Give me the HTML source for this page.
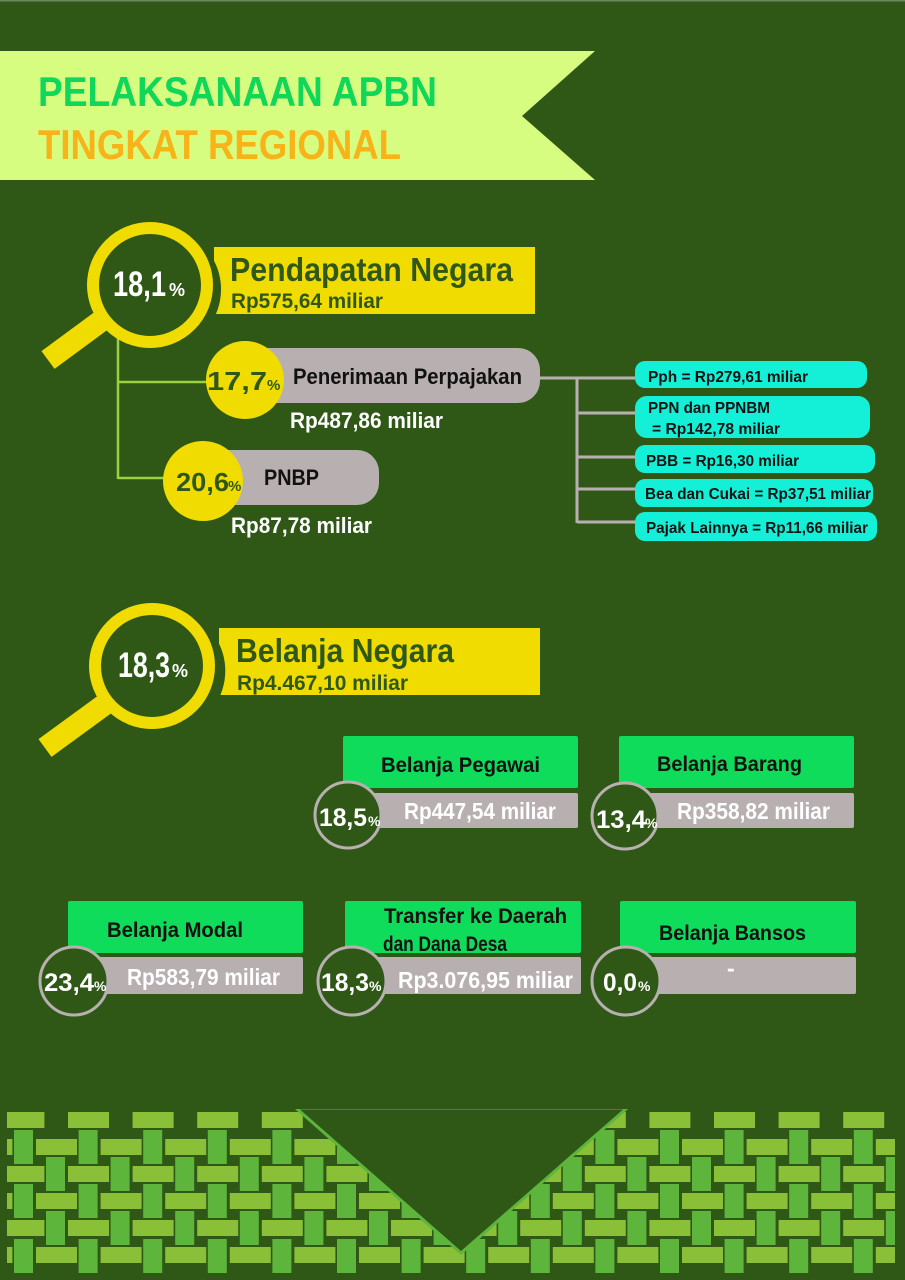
<!DOCTYPE html>
<html><head><meta charset="utf-8"><style>
html,body{margin:0;padding:0;background:#2f5817;}
svg{display:block;}
text{font-family:"Liberation Sans Narrow","Liberation Sans",sans-serif;font-weight:bold;}
</style></head><body>
<svg width="905" height="1280" viewBox="0 0 905 1280" xmlns="http://www.w3.org/2000/svg">
<defs>
<clipPath id="pc"><rect x="7" y="1100" width="888" height="175"/></clipPath>
</defs>
<rect width="905" height="1280" fill="#2f5817"/>
<rect x="0" y="0" width="905" height="1.5" fill="#6e8a5c"/>

<polygon points="0,51 595,51 522,116 595,180 0,180" fill="#d6fd7f"/>
<text x="38" y="106" font-size="42" fill="#10d65a" textLength="399" lengthAdjust="spacingAndGlyphs">PELAKSANAAN APBN</text>
<text x="38" y="159" font-size="42" fill="#f7b318" textLength="363" lengthAdjust="spacingAndGlyphs">TINGKAT REGIONAL</text>

<line x1="118" y1="330" x2="118" y2="479" stroke="#9bd040" stroke-width="2.5"/>
<line x1="118" y1="382" x2="215" y2="382" stroke="#9bd040" stroke-width="2.5"/>
<line x1="118" y1="478" x2="170" y2="478" stroke="#9bd040" stroke-width="2.5"/>
<line x1="48" y1="360" x2="105" y2="318" stroke="#f0dc00" stroke-width="22"/>
<circle cx="150" cy="285" r="57" fill="#2f5817" stroke="#f0dc00" stroke-width="12"/>
<rect x="214" y="247" width="321" height="67" fill="#f0dc00"/>
<path d="M207,250 A62,62 0 0 1 214,318 L214,247 Z" fill="#2f5817"/>
<text x="113" y="296" font-size="35" fill="#fff" textLength="53" lengthAdjust="spacingAndGlyphs">18,1</text>
<text x="169" y="296" font-size="18" fill="#fff">%</text>
<text x="230" y="281" font-size="33" fill="#2f5817" textLength="283" lengthAdjust="spacingAndGlyphs">Pendapatan Negara</text>
<text x="231" y="308" font-size="21" fill="#2f5817" textLength="152" lengthAdjust="spacingAndGlyphs">Rp575,64 miliar</text>

<g stroke="#b8b0b0" stroke-width="3" fill="none">
<line x1="535" y1="378" x2="637" y2="378"/>
<line x1="577" y1="378" x2="577" y2="523"/>
<line x1="577" y1="413" x2="637" y2="413"/>
<line x1="577" y1="457" x2="637" y2="457"/>
<line x1="577" y1="489" x2="637" y2="489"/>
<line x1="577" y1="522" x2="637" y2="522"/>
</g>

<rect x="230" y="348" width="310" height="55" rx="22" fill="#b8b0b0"/>
<circle cx="245" cy="380" r="39" fill="#f0dc00"/>
<text x="207" y="390" font-size="26" fill="#2f5817" textLength="60" lengthAdjust="spacingAndGlyphs">17,7</text>
<text x="267" y="390" font-size="15" fill="#2f5817">%</text>
<text x="293" y="384" font-size="22" fill="#111" textLength="229" lengthAdjust="spacingAndGlyphs">Penerimaan Perpajakan</text>
<text x="290" y="428" font-size="22" fill="#fff" textLength="153" lengthAdjust="spacingAndGlyphs">Rp487,86 miliar</text>

<rect x="190" y="450" width="189" height="55" rx="22" fill="#b8b0b0"/>
<circle cx="203" cy="481" r="40" fill="#f0dc00"/>
<text x="176" y="491" font-size="26" fill="#2f5817" textLength="53" lengthAdjust="spacingAndGlyphs">20,6</text>
<text x="228" y="491" font-size="15" fill="#2f5817">%</text>
<text x="264" y="485" font-size="22" fill="#111" textLength="55" lengthAdjust="spacingAndGlyphs">PNBP</text>
<text x="231" y="533" font-size="22" fill="#fff" textLength="141" lengthAdjust="spacingAndGlyphs">Rp87,78 miliar</text>

<g fill="#14f0d8">
<rect x="635" y="361" width="232" height="27" rx="10"/>
<rect x="635" y="396" width="235" height="42" rx="12"/>
<rect x="635" y="445" width="240" height="28" rx="10"/>
<rect x="635" y="479" width="238" height="28" rx="10"/>
<rect x="635" y="512" width="242" height="29" rx="10"/>
</g>
<g font-size="16" fill="#111">
<text x="648" y="382" textLength="160" lengthAdjust="spacingAndGlyphs">Pph = Rp279,61 miliar</text>
<text x="648" y="413" textLength="122" lengthAdjust="spacingAndGlyphs">PPN dan PPNBM</text>
<text x="652" y="434" textLength="128" lengthAdjust="spacingAndGlyphs">= Rp142,78 miliar</text>
<text x="646" y="466" textLength="153" lengthAdjust="spacingAndGlyphs">PBB = Rp16,30 miliar</text>
<text x="645" y="499" textLength="226" lengthAdjust="spacingAndGlyphs">Bea dan Cukai = Rp37,51 miliar</text>
<text x="646" y="533" textLength="222" lengthAdjust="spacingAndGlyphs">Pajak Lainnya = Rp11,66 miliar</text>
</g>

<line x1="45" y1="748" x2="108" y2="702" stroke="#f0dc00" stroke-width="22"/>
<circle cx="152" cy="666" r="57" fill="#2f5817" stroke="#f0dc00" stroke-width="12"/>
<rect x="219" y="628" width="321" height="67" fill="#f0dc00"/>
<path d="M210,630 A62,62 0 0 1 219,698 L219,628 Z" fill="#2f5817"/>
<text x="118" y="677" font-size="35" fill="#fff" textLength="52" lengthAdjust="spacingAndGlyphs">18,3</text>
<text x="172" y="677" font-size="18" fill="#fff">%</text>
<text x="236" y="662" font-size="33" fill="#2f5817" textLength="218" lengthAdjust="spacingAndGlyphs">Belanja Negara</text>
<text x="237" y="690" font-size="21" fill="#2f5817" textLength="171" lengthAdjust="spacingAndGlyphs">Rp4.467,10 miliar</text>

<g fill="#0fdc5a">
<rect x="343" y="736" width="235" height="52" rx="2"/>
<rect x="619" y="736" width="235" height="52" rx="2"/>
<rect x="68" y="901" width="235" height="52" rx="2"/>
<rect x="345" y="901" width="236" height="52" rx="2"/>
<rect x="620" y="901" width="236" height="52" rx="2"/>
</g>
<g fill="#b8b0b0">
<rect x="370" y="793" width="208" height="35" rx="2"/>
<rect x="645" y="793" width="209" height="35" rx="2"/>
<rect x="95" y="957" width="208" height="37" rx="2"/>
<rect x="370" y="957" width="211" height="37" rx="2"/>
<rect x="645" y="957" width="211" height="37" rx="2"/>
</g>
<g fill="#2f5817" stroke="#b8b0b0" stroke-width="3">
<circle cx="348" cy="815" r="33"/>
<circle cx="625" cy="816" r="33"/>
<circle cx="74" cy="981" r="34"/>
<circle cx="352" cy="981" r="34"/>
<circle cx="626" cy="981" r="34"/>
</g>
<g font-size="21" fill="#111">
<text x="381" y="772" textLength="159" lengthAdjust="spacingAndGlyphs">Belanja Pegawai</text>
<text x="657" y="771" textLength="145" lengthAdjust="spacingAndGlyphs">Belanja Barang</text>
<text x="107" y="937" textLength="136" lengthAdjust="spacingAndGlyphs">Belanja Modal</text>
<text x="384" y="923" textLength="183" lengthAdjust="spacingAndGlyphs">Transfer ke Daerah</text>
<text x="383" y="951" textLength="124" lengthAdjust="spacingAndGlyphs">dan Dana Desa</text>
<text x="659" y="940" textLength="147" lengthAdjust="spacingAndGlyphs">Belanja Bansos</text>
</g>
<g font-size="23" fill="#fff">
<text x="404" y="819" textLength="152" lengthAdjust="spacingAndGlyphs">Rp447,54 miliar</text>
<text x="677" y="819" textLength="153" lengthAdjust="spacingAndGlyphs">Rp358,82 miliar</text>
<text x="127" y="985" textLength="153" lengthAdjust="spacingAndGlyphs">Rp583,79 miliar</text>
<text x="398" y="988" textLength="175" lengthAdjust="spacingAndGlyphs">Rp3.076,95 miliar</text>
<text x="727" y="976">-</text>
</g>
<g font-size="25" fill="#fff">
<text x="319" y="826" textLength="48" lengthAdjust="spacingAndGlyphs">18,5</text>
<text x="596" y="828" textLength="50" lengthAdjust="spacingAndGlyphs">13,4</text>
<text x="44" y="991" textLength="50" lengthAdjust="spacingAndGlyphs">23,4</text>
<text x="321" y="991" textLength="48" lengthAdjust="spacingAndGlyphs">18,3</text>
<text x="603" y="991" textLength="34" lengthAdjust="spacingAndGlyphs">0,0</text>
</g>
<g font-size="14" fill="#fff">
<text x="368" y="826">%</text>
<text x="645" y="828">%</text>
<text x="94" y="991">%</text>
<text x="369" y="991">%</text>
<text x="638" y="991">%</text>
</g>

<g clip-path="url(#pc)">
<g fill="#5db53c">
<g id="va">
<rect x="14" y="1130" width="19" height="34"/>
<rect x="14" y="1184" width="19" height="34"/>
<rect x="14" y="1239" width="19" height="34"/>
<rect x="46" y="1157" width="19" height="34"/>
<rect x="46" y="1211" width="19" height="34"/>
</g>
<use href="#va" x="64.6"/><use href="#va" x="129.2"/><use href="#va" x="193.8"/><use href="#va" x="258.4"/>
<use href="#va" x="323"/><use href="#va" x="387.6"/><use href="#va" x="452.2"/><use href="#va" x="516.8"/>
<use href="#va" x="581.4"/><use href="#va" x="646"/><use href="#va" x="710.6"/><use href="#va" x="775.2"/><use href="#va" x="839.8"/>
</g>
<g fill="#8abf38">
<g id="ha">
<rect x="3.4" y="1112" width="41" height="16"/>
<rect x="3.4" y="1166" width="41" height="16"/>
<rect x="3.4" y="1220" width="41" height="16"/>
<rect x="-28.6" y="1139" width="41" height="16"/>
<rect x="-28.6" y="1193" width="41" height="16"/>
<rect x="-28.6" y="1247" width="41" height="16"/>
</g>
<use href="#ha" x="64.6"/><use href="#ha" x="129.2"/><use href="#ha" x="193.8"/><use href="#ha" x="258.4"/>
<use href="#ha" x="323"/><use href="#ha" x="387.6"/><use href="#ha" x="452.2"/><use href="#ha" x="516.8"/>
<use href="#ha" x="581.4"/><use href="#ha" x="646"/><use href="#ha" x="710.6"/><use href="#ha" x="775.2"/><use href="#ha" x="839.8"/><use href="#ha" x="904.4"/>
</g>
</g>
<polygon points="296,1108 461,1253 627,1108" fill="#2f5817" stroke="#5db53c" stroke-width="3"/>
<rect x="290" y="1098" width="345" height="11" fill="#2f5817"/>
</svg>
</body></html>
